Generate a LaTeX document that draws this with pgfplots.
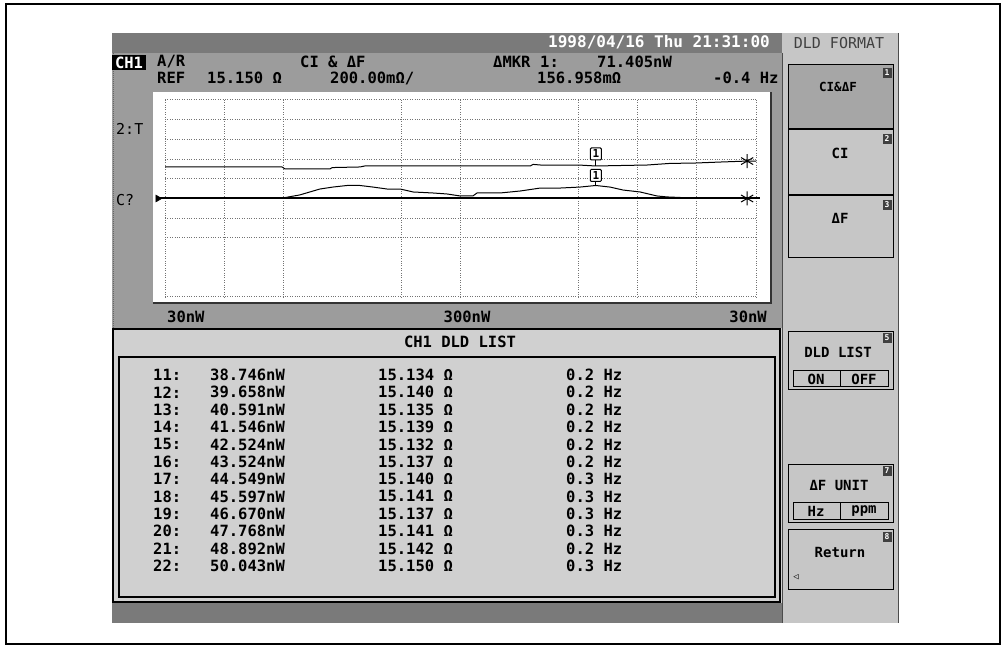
\documentclass[border=0pt]{standalone}
\usepackage{pgfplots}
\pgfplotsset{compat=1.18}
\usepackage{fontspec}
\setmainfont{DejaVu Sans}
\newfontfamily\scr{DejaVu Sans Mono}

\definecolor{dkband}{HTML}{7A7A7A}
\definecolor{dk}{HTML}{9C9C9C}
\definecolor{lt}{HTML}{D0D0D0}
\definecolor{menu}{HTML}{C6C6C6}
\definecolor{sel}{HTML}{A6A6A6}

\begin{document}
\begin{tikzpicture}[
  t/.style={font=\scr\bfseries\fontsize{15.5}{16}\selectfont, inner sep=0pt, anchor=west},
  tc/.style={t, anchor=center},
  mt/.style={font=\scr\bfseries\fontsize{14}{14}\selectfont, inner sep=0pt},
  badge/.style={fill=black!75, text=white, font=\scr\bfseries\fontsize{8}{8}\selectfont,
    inner sep=0pt, minimum width=9pt, minimum height=10pt},
  img/.style={x=1pt, y=1pt, shift={(0pt,648pt)}, yscale=-1}]
\path[use as bounding box] (0pt,0pt) rectangle (1004pt,648pt);

% screen background, image coordinates (y down)
\begin{scope}[img]
  \draw[line width=2pt] (6,4) rectangle (1000,644);
  \fill[dk] (112,33) rectangle (782,328);
  \fill[dkband] (112,33) rectangle (782,53);
  \fill[lt] (112,328) rectangle (782,603);
  \fill[dkband] (112,603) rectangle (782,623);
  \fill[menu] (782,33) rectangle (898,623);
  \draw[black!70, line width=1pt] (898,33) -- (898,623);
  \draw[black!70, line width=1pt] (782,53) -- (782,623);
  \draw[black!60, densely dotted, line width=1pt] (113,53) -- (113,328);
  % plot window
  \fill[white] (153,92) rectangle (771,303);
  \draw[black!80, line width=1.5pt] (771,92) -- (771,303) -- (153,303);
  % list panel
  \draw[line width=1.5pt] (113,329) rectangle (780,602);
  \draw[line width=2pt] (119,357) rectangle (775,597);
  % menu boxes
  \fill[sel] (788,65) rectangle (893,129);
  \draw[line width=1pt] (788,65) rectangle (893,258);
  \draw[line width=2pt] (788,129) -- (893,129);
  \draw[line width=2pt] (788,195) -- (893,195);
  \draw[line width=1pt] (788,332) rectangle (893,390);
  \draw[line width=1pt] (793,371) rectangle (840,387);
  \draw[line width=1pt] (840,371) rectangle (888,387);
  \draw[line width=1pt] (788,465) rectangle (893,523);
  \draw[line width=1pt] (793,503) rectangle (840,520);
  \draw[line width=1pt] (840,503) rectangle (888,520);
  \draw[line width=1pt] (788,530) rectangle (893,590);
\end{scope}

\begin{axis}[
  at={(165pt,351pt)}, anchor=south west,
  width=591pt, height=197pt, scale only axis,
  xmin=0, xmax=10, ymin=-5, ymax=5,
  clip=false,
  axis line style={draw=none},
  tick style={draw=none},
  xtick={0,1,2,4,5,7,8,9,10},
  ytick={-5,-2,-1,0,1,2,3,4,5},
  xticklabels={}, yticklabels={},
  grid=major,
  major grid style={dotted, line width=1pt, black!55},
]
% 2:T trace
\addplot[black, line width=1pt] coordinates {
  (0,1.60) (1.98,1.60) (2.03,1.50) (2.79,1.50) (2.83,1.57) (3.30,1.60)
  (3.38,1.65) (5.67,1.65) (6.18,1.65) (6.23,1.73) (6.35,1.70) (6.99,1.70)
  (7.29,1.65) (8.16,1.70) (8.54,1.78) (8.97,1.80) (9.39,1.85) (9.85,1.90) (10,1.90)
};
% C? trace
\addplot[black, line width=1pt] coordinates {
  (0,0) (1.10,0) (1.18,0.05) (1.44,0.05) (1.52,0) (2.00,0.03) (2.28,0.18)
  (2.62,0.48) (2.84,0.58) (3.08,0.66) (3.30,0.66) (3.52,0.58) (3.76,0.48)
  (3.98,0.48) (4.20,0.33) (4.53,0.28) (4.77,0.23) (4.99,0.13) (5.21,0.13)
  (5.28,0.28) (5.67,0.28) (6.01,0.38) (6.35,0.53) (6.68,0.53) (7.02,0.58)
  (7.29,0.66) (7.53,0.58) (7.75,0.43) (8.04,0.33) (8.32,0.13) (8.49,0.08)
  (8.88,0.03) (9.39,0) (10,0)
};
% reference level
\addplot[black, line width=2pt] coordinates {(-0.1,0) (10.07,0)};
\addplot[only marks, mark=asterisk, mark size=7pt, line width=1pt] coordinates {(9.85,1.90) (9.85,0)};
\addplot[only marks, mark=triangle*, mark options={rotate=-90}, mark size=4pt] coordinates {(-0.12,0)};
% marker 1
\draw[line width=1pt] (axis cs:7.29,1.65) -- (axis cs:7.29,1.95);
\draw[line width=1pt] (axis cs:7.29,0.66) -- (axis cs:7.29,0.85);
\node[draw, fill=white, line width=1pt, rounded corners=1pt, inner sep=0pt, minimum width=11pt, minimum height=12pt,
  font=\scr\bfseries\fontsize{11}{11}\selectfont] at (axis cs:7.29,2.26) {1};
\node[draw, fill=white, line width=1pt, rounded corners=1pt, inner sep=0pt, minimum width=11pt, minimum height=12pt,
  font=\scr\bfseries\fontsize{11}{11}\selectfont] at (axis cs:7.29,1.17) {1};
\end{axis}

% texts, image coordinates (y down)
\begin{scope}[img]
  \node[tc, text=white, font=\scr\bfseries\fontsize{16}{16}\selectfont] at (659,42) {1998/04/16 Thu 21:31:00};
  \node[font=\scr\fontsize{15}{15}\selectfont, text=black!75, inner sep=0pt] at (839,43) {DLD FORMAT};
  % header
  \fill[black] (112,55) rectangle (146,70);
  \node[tc, text=white] at (129,62.5) {CH1};
  \node[t] at (157,62) {A/R};
  \node[t] at (300,62) {CI \& ΔF};
  \node[t] at (493,62) {ΔMKR};
  \node[t] at (540,62) {1:};
  \node[t] at (597,62) {71.405nW};
  \node[t] at (157,78) {REF};
  \node[t] at (207,78) {15.150 Ω};
  \node[t] at (330,78) {200.00mΩ/};
  \node[t] at (537,78) {156.958mΩ};
  \node[t] at (713,78) {-0.4 Hz};
  % side labels
  \node[t, font=\scr\fontsize{15}{15}\selectfont] at (116,129) {2:T};
  \node[t, font=\scr\fontsize{15}{15}\selectfont] at (116,200) {C?};
  % x scale labels
  \node[t] at (167,317) {30nW};
  \node[tc] at (467,317) {300nW};
  \node[t, anchor=east] at (767,317) {30nW};
  % list
  \node[tc] at (460,342) {CH1 DLD LIST};
  \foreach \na/\pw/\ci/\df [count=\i from 0] in {
      11/38.746/15.134/0.2, 12/39.658/15.140/0.2, 13/40.591/15.135/0.2,
      14/41.546/15.139/0.2, 15/42.524/15.132/0.2, 16/43.524/15.137/0.2,
      17/44.549/15.140/0.3, 18/45.597/15.141/0.3, 19/46.670/15.137/0.3,
      20/47.768/15.141/0.3, 21/48.892/15.142/0.2, 22/50.043/15.150/0.3} {
    \node[t] at (153,{375+17.35*\i}) {\na:};
    \node[t] at (210,{375+17.35*\i}) {\pw nW};
    \node[t] at (378,{375+17.35*\i}) {\ci\ Ω};
    \node[t] at (566,{375+17.35*\i}) {\df\ Hz};
  }
  % menu
  \node[mt, font=\scr\bfseries\fontsize{12.5}{12.5}\selectfont] at (838,87) {CI\&ΔF};
  \node[mt] at (840,153) {CI};
  \node[mt] at (840,218) {ΔF};
  \node[mt] at (838,352) {DLD LIST};
  \node[mt] at (816,379) {ON};
  \node[mt] at (864,379) {OFF};
  \node[mt] at (839,485) {ΔF UNIT};
  \node[mt] at (816,511) {Hz};
  \node[mt] at (864,511) {ppm};
  \node[mt] at (840,552) {Return};
  \node[font=\scr\fontsize{9}{9}\selectfont, inner sep=0pt] at (796,577) {◁};
  \node[badge] at (887,73) {1};
  \node[badge] at (887,139) {2};
  \node[badge] at (887,205) {3};
  \node[badge] at (887,338) {5};
  \node[badge] at (887,471) {7};
  \node[badge] at (887,537) {8};
\end{scope}
\end{tikzpicture}
\end{document}
